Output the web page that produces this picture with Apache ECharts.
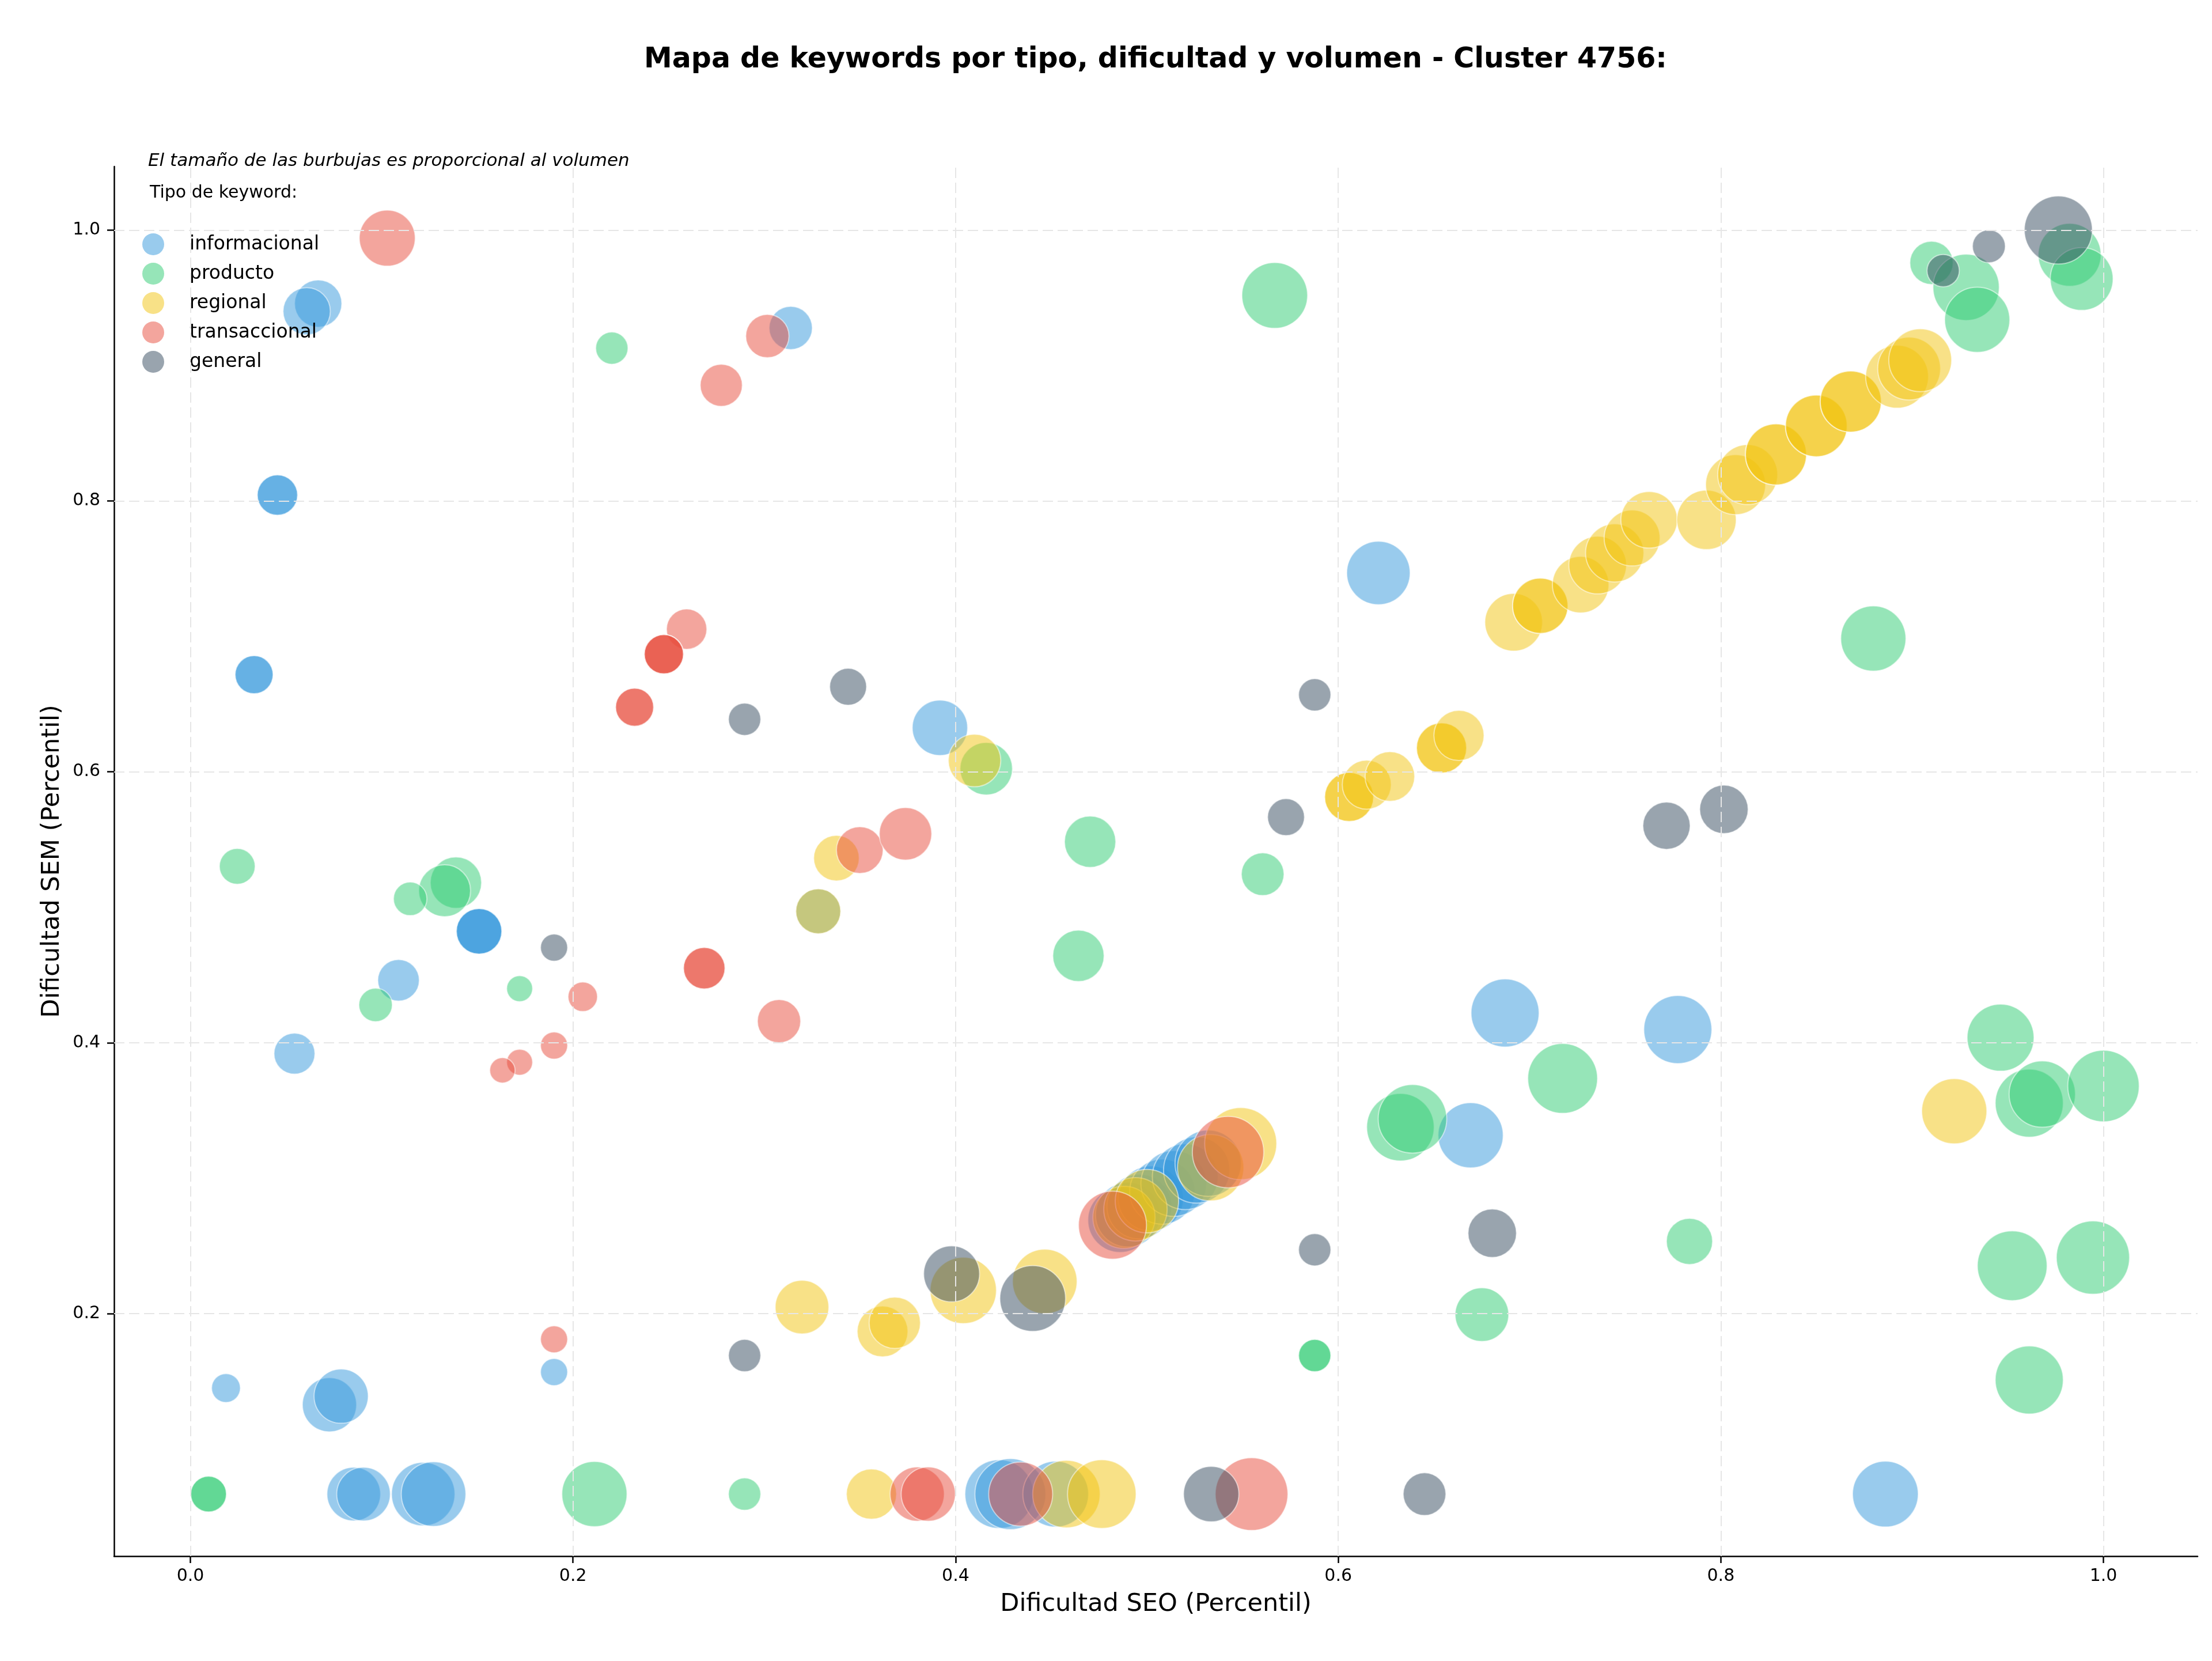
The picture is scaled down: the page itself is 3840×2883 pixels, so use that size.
<!DOCTYPE html>
<html>
<head>
<meta charset="utf-8">
<script src="https://cdn.jsdelivr.net/npm/echarts@6/dist/echarts.min.js"></script>
<style>html,body{margin:0;padding:0;background:#fff;}#c{width:3840px;height:2883px;}</style>
</head>
<body>
<div id="c"></div>
<script>
// ---- Data: [dificultad SEO, dificultad SEM, volumen] ----
const categories = ['informacional', 'producto', 'regional', 'transaccional', 'general'];
const xTicks = [0.0, 0.2, 0.4, 0.6, 0.8, 1.0];
const yTicks = [0.2, 0.4, 0.6, 0.8, 1.0];

const informacional = [
  [0.0668,0.9457,1681],[0.0608,0.940,1681],[0.3138,0.9277,1406],
  [0.0455,0.8043,1225],[0.0455,0.8043,1225],
  [0.0333,0.6717,1089],[0.0333,0.6717,1089],
  [0.1509,0.4822,1560],[0.1509,0.4822,1560],[0.1509,0.4822,1560],
  [0.1088,0.4461,1296],[0.0544,0.3919,1260],[0.0186,0.145,625],
  [0.0727,0.1327,2209],[0.0788,0.139,2209],[0.1901,0.1568,552],
  [0.0854,0.0667,2162],[0.0905,0.0667,2162],[0.1217,0.0667,3025],[0.1271,0.0667,3136],
  [0.3918,0.6325,2304],[0.3282,0.497,1521],[0.621,0.7468,3025],
  [0.6872,0.4219,3481],[0.7775,0.4097,3481],[0.6692,0.3316,3192],
  [0.4228,0.0667,3540],[0.4286,0.0667,3782],[0.4523,0.0667,3249],[0.886,0.0667,3249],
  [0.486,0.269,3136],[0.490,0.273,3136],[0.496,0.279,3136],[0.502,0.285,3192],
  [0.508,0.290,3192],[0.514,0.296,3249],[0.520,0.301,3249],[0.526,0.306,3306],[0.532,0.311,3306]
];
const producto = [
  [0.2203,0.9128,784],[0.0245,0.5302,961],[0.1388,0.5182,1980],[0.1329,0.5122,2025],
  [0.1149,0.5062,841],[0.0968,0.4279,841],[0.1721,0.4399,506],
  [0.0095,0.0667,961],[0.0095,0.0667,961],[0.2112,0.0667,3192],[0.2897,0.0667,784],
  [0.416,0.6023,2070],[0.4703,0.5484,1980],[0.4642,0.4641,1980],[0.5605,0.5244,1369],
  [0.5668,0.9517,3249],[0.5877,0.169,784],[0.5877,0.169,784],[0.6751,0.1992,2162],
  [0.6325,0.3376,3422],[0.6388,0.3438,3540],[0.8797,0.6984,3192],[0.7836,0.2533,1600],
  [0.7173,0.3736,3660],[0.9462,0.4037,3364],[0.9612,0.3554,3481],[0.9680,0.3620,3306],
  [1.0,0.368,3844],[0.9523,0.2353,3660],[0.9945,0.2413,4032],[0.9612,0.151,3481],
  [0.9101,0.9758,1406],[0.9282,0.9577,3306],[0.934,0.9337,3192],
  [0.9823,0.9817,2970],[0.9886,0.9639,2970]
];
const regional = [
  [0.3282,0.497,1521],[0.4099,0.6083,2070],[0.3377,0.5362,1560],
  [0.6057,0.5814,1806],[0.6057,0.5814,1806],[0.6149,0.5905,1806],[0.627,0.5965,1849],
  [0.654,0.6176,1892],[0.654,0.6176,1892],[0.6631,0.6268,1892],
  [0.6917,0.7104,2500],[0.7056,0.7226,2304],[0.7056,0.7226,2304],[0.7267,0.7382,2401],
  [0.7356,0.7526,2500],[0.7445,0.7616,2550],[0.7536,0.7726,2352],[0.7625,0.786,2401],
  [0.7925,0.786,2652],[0.8077,0.812,2704],[0.814,0.8194,2704],
  [0.8288,0.8343,2809],[0.8288,0.8343,2809],[0.8499,0.8554,2862],[0.8499,0.8554,2862],
  [0.8679,0.8734,2809],[0.8679,0.8734,2809],[0.8921,0.8917,2970],[0.8984,0.8977,2970],
  [0.9042,0.9039,2970],[0.922,0.3494,3192],
  [0.3197,0.2048,2162],[0.3618,0.1868,1936],[0.3682,0.1932,1980],[0.404,0.2171,3306],
  [0.4466,0.2237,3136],[0.356,0.0667,1892],[0.4579,0.0667,3422],[0.4764,0.0667,3540],
  [0.488,0.271,2916],[0.494,0.277,3025],[0.500,0.283,3025],[0.5333,0.3077,3306],[0.549,0.3255,3906]
];
const transaccional = [
  [0.1029,0.994,2352],[0.3016,0.9217,1406],[0.2775,0.8854,1332],[0.2594,0.7053,1225],
  [0.2475,0.6868,1156],[0.2475,0.6868,1156],[0.2475,0.6868,1156],
  [0.2322,0.6477,1089],[0.2322,0.6477,1089],
  [0.2686,0.455,1296],[0.2686,0.455,1296],[0.3077,0.4159,1406],
  [0.2051,0.4339,650],[0.1901,0.3979,552],[0.1721,0.3856,506],[0.1631,0.3796,484],
  [0.1901,0.181,552],[0.3499,0.5422,1640],[0.3738,0.5542,2070],
  [0.3799,0.0667,2209],[0.3857,0.0667,2209],[0.434,0.0667,3080],[0.5547,0.0667,3969],
  [0.482,0.2653,3481],[0.5424,0.3192,3844]
];
const general = [
  [0.2897,0.6388,784],[0.1901,0.4702,552],[0.2897,0.169,784],[0.3438,0.6628,1024],
  [0.5877,0.6568,784],[0.5727,0.5665,1024],[0.5877,0.2471,784],[0.6805,0.2593,1764],
  [0.3979,0.2293,2352],[0.4403,0.2111,3249],[0.5336,0.0667,2304],[0.6451,0.0667,1369],
  [0.7716,0.5602,1681],[0.8016,0.5723,1764],[0.9162,0.97,784],[0.9401,0.988,812],
  [0.9764,1.0,3481]
];
const seriesData = [informacional, producto, regional, transaccional, general];
const colors = ['#3498DB', '#2ECC71', '#F1C40F', '#E74C3C', '#34495E'];

const FONT = 'DejaVu Sans';
const chart = echarts.init(document.getElementById('c'), null, {renderer: 'canvas'});

const gridSeries = {
  type: 'line', data: [], silent: true, z: 1,
  markLine: {
    silent: true, symbol: ['none', 'none'], label: {show: false},
    lineStyle: {color: '#e6e6e6', type: [18, 8], width: 2},
    animation: false,
    data: xTicks.map(v => ({xAxis: v})).concat(yTicks.map(v => ({yAxis: v})))
  }
};

const scatterSeries = categories.map((name, i) => ({
  name: name,
  type: 'scatter',
  z: 2,
  data: seriesData[i],
  symbol: 'circle',
  symbolSize: v => 2 * Math.sqrt(v[2]),
  itemStyle: {color: colors[i], opacity: 0.5, borderColor: '#ffffff', borderWidth: 2},
  emphasis: {disabled: true},
  animation: false
}));

chart.setOption({
  backgroundColor: '#ffffff',
  animation: false,
  grid: {left: 198, right: 25, top: 289, bottom: 182, containLabel: false},
  xAxis: {
    type: 'value', min: -0.0399, max: 1.0492,
    name: 'Dificultad SEO (Percentil)', nameLocation: 'middle', nameGap: 62,
    nameTextStyle: {fontFamily: FONT, fontSize: 43, color: '#000'},
    axisLine: {show: true, onZero: false, lineStyle: {color: '#000', width: 2.5}},
    axisTick: {show: true, length: 12, lineStyle: {color: '#000', width: 2.5}, customValues: xTicks},
    axisLabel: {fontFamily: FONT, fontSize: 30, color: '#000', margin: 20,
      customValues: xTicks, formatter: v => Number(v).toFixed(1)},
    splitLine: {show: false}
  },
  yAxis: {
    type: 'value', min: 0.0209, max: 1.0469,
    name: 'Dificultad SEM (Percentil)', nameLocation: 'middle', nameGap: 86, nameRotate: 90,
    nameTextStyle: {fontFamily: FONT, fontSize: 43, color: '#000'},
    axisLine: {show: true, onZero: false, lineStyle: {color: '#000', width: 2.5}},
    axisTick: {show: true, length: 12, lineStyle: {color: '#000', width: 2.5}, customValues: yTicks},
    axisLabel: {fontFamily: FONT, fontSize: 30, color: '#000', margin: 24,
      customValues: yTicks, formatter: v => Number(v).toFixed(1)},
    splitLine: {show: false}
  },
  legend: {
    show: true, orient: 'vertical', left: 242, top: 400,
    itemWidth: 38, itemHeight: 38, itemGap: 13, icon: 'circle',
    itemStyle: {opacity: 0.5, borderWidth: 0},
    textStyle: {fontFamily: FONT, fontSize: 33, color: '#000', padding: [0, 0, 0, 39]},
    data: categories, selectedMode: false
  },
  graphic: [
    {type: 'text', x: 2006, y: 104, z: 10,
      style: {text: 'Mapa de keywords por tipo, dificultad y volumen - Cluster 4756:',
        font: 'bold 49px "DejaVu Sans"', fill: '#000', textAlign: 'center', textVerticalAlign: 'middle'}},
    {type: 'text', x: 257, y: 280, z: 10,
      style: {text: 'El tamaño de las burbujas es proporcional al volumen',
        font: 'italic 31px "DejaVu Sans"', fill: '#000', textAlign: 'left', textVerticalAlign: 'middle'}},
    {type: 'text', x: 260, y: 335, z: 10,
      style: {text: 'Tipo de keyword:',
        font: '30px "DejaVu Sans"', fill: '#000', textAlign: 'left', textVerticalAlign: 'middle'}}
  ],
  series: [gridSeries].concat(scatterSeries)
});
</script>
</body>
</html>
